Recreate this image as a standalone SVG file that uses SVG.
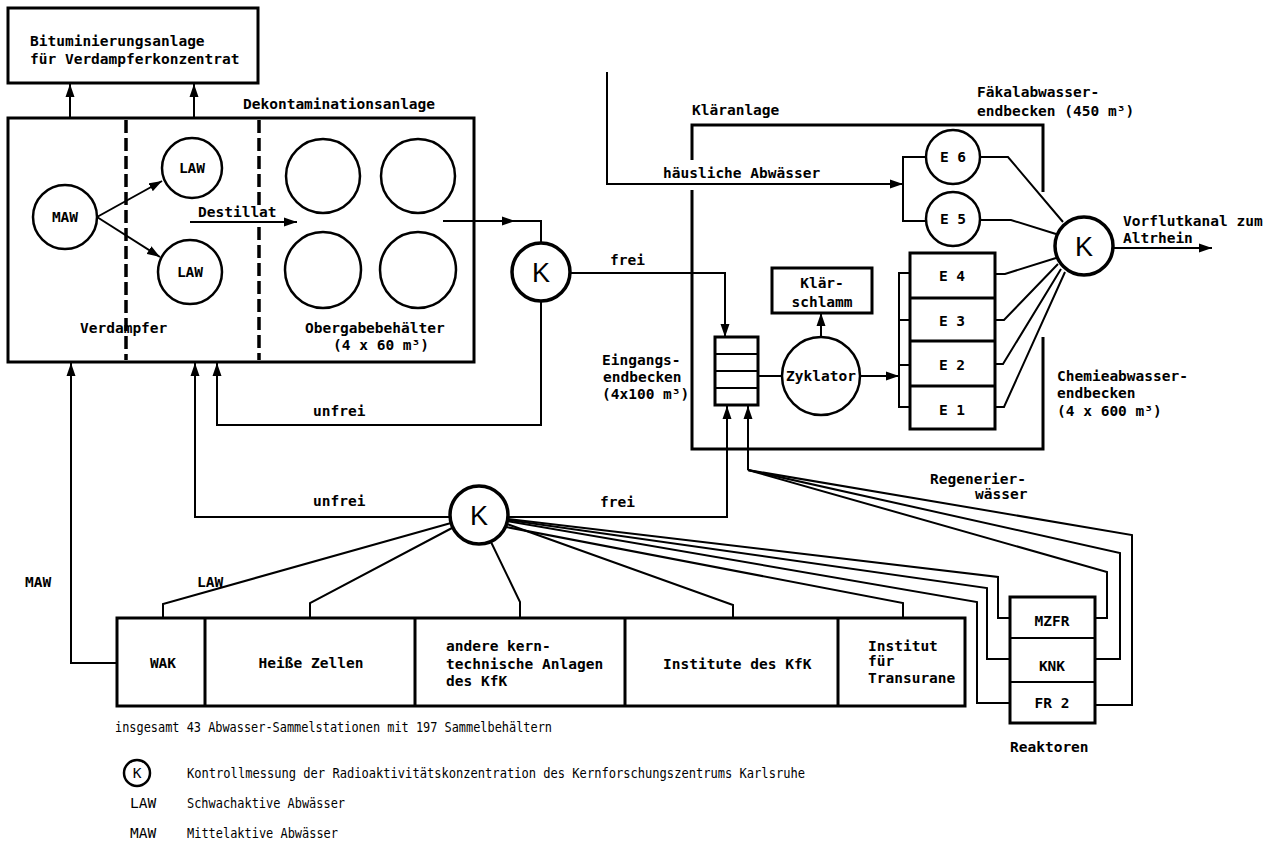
<svg xmlns="http://www.w3.org/2000/svg" width="1277" height="859" viewBox="0 0 1277 859">
<style>
.t{font-family:"DejaVu Sans Mono","Liberation Mono",monospace;font-size:14.5px;font-weight:bold;fill:#000}
.lg{font-family:"DejaVu Sans Mono","Liberation Mono",monospace;font-size:14.5px;fill:#000}
.m{text-anchor:middle}
.k{font-family:"Liberation Sans","DejaVu Sans",sans-serif;font-size:27px;text-anchor:middle;fill:#000}
.box{fill:none;stroke:#000;stroke-width:3}
.cell{fill:#fff;stroke:#000;stroke-width:3}
.circ{fill:#fff;stroke:#000;stroke-width:2.5}
.kc{fill:#fff;stroke:#000;stroke-width:3.5}
.ln{fill:none;stroke:#000;stroke-width:2}
.ar{fill:none;stroke:#000;stroke-width:2;marker-end:url(#a)}
.dash{stroke:#000;stroke-width:3.5;stroke-dasharray:13 5}
</style>
<defs>
<marker id="a" markerUnits="userSpaceOnUse" markerWidth="14" markerHeight="10" refX="13" refY="5" orient="auto"><path d="M0,0.5 L13,5 L0,9.5 z" fill="#000"/></marker>
</defs>
<rect width="1277" height="859" fill="#fff"/>

<g id="connectors">
<path class="ar" d="M70,118 V84"/>
<path class="ar" d="M194,118 V84"/>
<path class="ar" d="M97,217 L162,181"/>
<path class="ar" d="M97,217 L160,257"/>
<path class="ar" d="M190,222 H297"/>
<path class="ln" d="M443,221 H541 V243"/>
<polygon points="502,216.5 515,221 502,225.5" fill="#000"/>
<path class="ar" d="M570,273 H725 V337"/>
<path class="ar" d="M541,301 V425 H217 V363"/>
<path class="ar" d="M607,72 V184 H903"/>
<path class="ln" d="M926,157 H903 V221 H926"/>
<path class="ln" d="M980,157 H1008 L1063,222"/>
<path class="ln" d="M980,220 H1011 L1056,234"/>
<path class="ln" d="M995,274 H1005 L1056,258"/>
<path class="ln" d="M995,320 H1004 L1058,264"/>
<path class="ln" d="M995,364 H1003 L1061,269"/>
<path class="ln" d="M995,407 H1004 L1065,272"/>
<path class="ar" stroke-width="2.5" d="M1113,248 H1212"/>
<path class="ln" d="M758,376 H782"/>
<path class="ar" d="M860,376 H899"/>
<path class="ln" d="M910,273 H899 V407 H910 M899,320 H910 M899,365 H910"/>
<path class="ar" stroke-width="3" d="M821,337 V313"/>
<path class="ar" d="M450,517 H195 V363"/>
<path class="ar" d="M508,517 H727 V406"/>
<path class="ar" d="M117,663 H71 V363"/>
<path class="ln" d="M163,618 V604 L451,523"/>
<path class="ln" d="M310,618 V603 L452,528"/>
<path class="ln" d="M520,618 V602 L491,542"/>
<path class="ln" d="M733,618 V605 L507,524"/>
<path class="ln" d="M903,618 V603 L506,527"/>
<path class="ln" d="M1010,703 H977 V602 L507,521"/>
<path class="ln" d="M1010,659 H987 V588 L508,520"/>
<path class="ln" d="M1010,618 H998 V577 L508,519"/>
<path class="ar" d="M748,470 V406"/>
<path class="ln" d="M748,470 L1107,572 V618 H1095"/>
<path class="ln" d="M748,470 L1120,553 V659 H1095"/>
<path class="ln" d="M748,470 L1132,535 V705 H1095"/>
</g>

<g id="bitum">
<rect class="box" x="8" y="8" width="250" height="75"/>
<text class="t" x="30" y="46">Bituminierungsanlage</text>
<text class="t" x="30" y="64">für Verdampferkonzentrat</text>
</g>

<g id="dekontamination">
<rect class="box" x="8" y="118" width="466" height="244"/>
<line class="dash" x1="126" y1="120" x2="126" y2="360"/>
<line class="dash" x1="259" y1="120" x2="259" y2="205"/>
<line class="dash" x1="259" y1="227" x2="259" y2="360"/>
<text class="t" x="243" y="109">Dekontaminationsanlage</text>
<text class="t" x="80" y="333">Verdampfer</text>
</g>

<g id="maw"><circle class="circ" cx="65" cy="217" r="32"/><text class="t m" x="65" y="222">MAW</text></g>
<g id="law1"><circle class="circ" cx="192" cy="168" r="30"/><text class="t m" x="192" y="173">LAW</text></g>
<g id="law2"><circle class="circ" cx="190" cy="272" r="32"/><text class="t m" x="190" y="277">LAW</text></g>
<text class="t" x="198" y="217">Destillat</text>

<g id="uebergabe">
<circle class="circ" cx="323" cy="176" r="37"/>
<circle class="circ" cx="418" cy="176" r="37"/>
<circle class="circ" cx="323" cy="270" r="38"/>
<circle class="circ" cx="418" cy="270" r="38"/>
<text class="t" x="305" y="333">Obergabebehälter</text>
<text class="t" x="333" y="350">(4 x 60 m³)</text>
</g>

<g id="k1"><circle class="kc" cx="541" cy="272" r="29"/><text class="k" x="541" y="282">K</text></g>
<text class="t" x="610" y="265">frei</text>
<text class="t" x="313" y="416">unfrei</text>

<g id="eingang">
<rect class="cell" x="715" y="337" width="43" height="68"/>
<path class="ln" stroke-width="2.5" d="M715,354 H758 M715,371 H758 M715,388 H758"/>
<text class="t" x="602" y="365">Eingangs-</text>
<text class="t" x="603" y="382">endbecken</text>
<text class="t" x="602" y="399">(4x100 m³)</text>
</g>

<g id="klaeranlage">
<path class="box" d="M692,160 V125 H1043 V192 M692,190 V449 H1043 V337"/>
<text class="t" x="692" y="115">Kläranlage</text>
</g>
<text class="t" x="663" y="178">häusliche Abwässer</text>
<text class="t" x="977" y="97">Fäkalabwasser-</text>
<text class="t" x="977" y="116">endbecken (450 m³)</text>

<g id="e6"><circle class="circ" cx="953" cy="157" r="27"/><text class="t m" x="953" y="162">E 6</text></g>
<g id="e5"><circle class="circ" cx="953" cy="219" r="27"/><text class="t m" x="953" y="224">E 5</text></g>

<g id="k2"><circle class="kc" cx="1084" cy="246" r="29"/><text class="k" x="1084" y="256">K</text></g>
<text class="t" x="1123" y="226">Vorflutkanal zum</text>
<text class="t" x="1123" y="243">Altrhein</text>

<g id="klaerschlamm">
<rect class="cell" x="772" y="268" width="100" height="45"/>
<text class="t m" x="822" y="288">Klär-</text>
<text class="t m" x="822" y="307">schlamm</text>
</g>

<g id="zyklator"><circle class="circ" cx="821" cy="376" r="39"/><text class="t m" x="821" y="381">Zyklator</text></g>

<g id="endbecken">
<rect class="cell" x="910" y="253" width="85" height="176"/>
<path class="box" d="M910,298 H995 M910,341 H995 M910,386 H995"/>
<text class="t m" x="952" y="281">E 4</text>
<text class="t m" x="952" y="326">E 3</text>
<text class="t m" x="952" y="370">E 2</text>
<text class="t m" x="952" y="415">E 1</text>
</g>
<text class="t" x="1057" y="381">Chemieabwasser-</text>
<text class="t" x="1057" y="398">endbecken</text>
<text class="t" x="1057" y="416">(4 x 600 m³)</text>
<text class="t" x="930" y="484">Regenerier-</text>
<text class="t" x="975" y="499">wässer</text>

<g id="k3"><circle class="kc" cx="479" cy="515" r="29"/><text class="k" x="479" y="525">K</text></g>
<text class="t" x="313" y="506">unfrei</text>
<text class="t" x="600" y="507">frei</text>
<text class="t" x="25" y="587">MAW</text>
<text class="t" x="197" y="587">LAW</text>

<g id="sammelstationen">
<rect class="box" stroke-width="3.5" x="117" y="618" width="848" height="88"/>
<path class="box" stroke-width="3.5" d="M205,618 V706 M415,618 V706 M625,618 V706 M838,618 V706"/>
<text class="t m" x="163" y="668">WAK</text>
<text class="t m" x="311" y="668">Heiße Zellen</text>
<text class="t" x="446" y="651">andere kern-</text>
<text class="t" x="446" y="669">technische Anlagen</text>
<text class="t" x="446" y="686">des KfK</text>
<text class="t" x="663" y="669">Institute des KfK</text>
<text class="t" x="868" y="651">Institut</text>
<text class="t" x="868" y="666">für</text>
<text class="t" x="868" y="683">Transurane</text>
</g>

<g id="reaktoren">
<rect class="cell" stroke-width="2.5" x="1010" y="597" width="85" height="126"/>
<path class="ln" stroke-width="2.5" d="M1010,638 H1095 M1010,682 H1095"/>
<text class="t m" x="1052" y="626">MZFR</text>
<text class="t m" x="1052" y="671">KNK</text>
<text class="t m" x="1052" y="708">FR 2</text>
<text class="t" x="1010" y="752">Reaktoren</text>
</g>

<g id="legend">
<text class="lg" x="115" y="732" textLength="437" lengthAdjust="spacingAndGlyphs">insgesamt 43 Abwasser-Sammelstationen mit 197 Sammelbehältern</text>
<circle class="circ" cx="137" cy="773" r="13"/>
<text class="lg m" x="137" y="778">K</text>
<text class="lg" x="187" y="778" textLength="618" lengthAdjust="spacingAndGlyphs">Kontrollmessung der Radioaktivitätskonzentration des Kernforschungszentrums Karlsruhe</text>
<text class="lg" x="130" y="808">LAW</text>
<text class="lg" x="187" y="808" textLength="158" lengthAdjust="spacingAndGlyphs">Schwachaktive Abwässer</text>
<text class="lg" x="130" y="838">MAW</text>
<text class="lg" x="187" y="838" textLength="151" lengthAdjust="spacingAndGlyphs">Mittelaktive Abwässer</text>
</g>
</svg>
